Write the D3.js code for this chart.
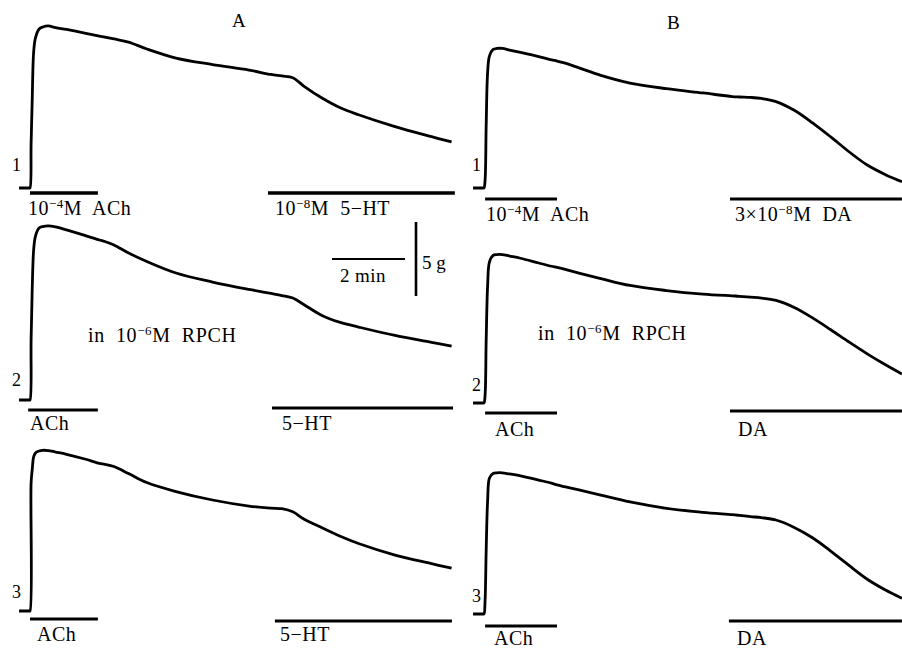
<!DOCTYPE html>
<html>
<head>
<meta charset="utf-8">
<script src="https://cdn.jsdelivr.net/npm/d3@7.9.0/dist/d3.min.js"></script>
<style>
  body { margin: 0; background: #fff; }
  svg { display: block; }
  text { font-family: "Liberation Serif", "Times New Roman", serif; fill: #000; white-space: pre; }
</style>
</head>
<body>
<svg id="chart" width="902" height="649"></svg>
<script>
// time in minutes from ACh application, tension in g
const timeA = [-0.3, -0.02, 0, 0.03, 0.06, 0.1, 0.15, 0.25, 0.35, 0.5, 0.7, 1.0, 1.5, 1.9, 2.05, 2.3, 2.7, 3.2, 4, 5, 6, 6.6, 6.9, 7.2, 7.5, 8, 8.5, 9, 10, 11, 11.55];
const timeB = [-0.3, -0.02, 0, 0.03, 0.06, 0.1, 0.15, 0.25, 0.35, 0.5, 0.7, 1.0, 1.5, 1.85, 2.0, 2.2, 2.6, 3.2, 4, 5, 6, 6.8, 7.0, 7.3, 7.6, 8.0, 8.5, 9.0, 9.5, 10, 10.5, 11, 11.45];

const traceA1 = [0, 0, 0, 2.97, 5.88, 9.19, 10.14, 10.74, 10.88, 10.95, 10.84, 10.71, 10.47, 10.27, 10.20, 10.07, 9.86, 9.39, 8.78, 8.34, 7.97, 7.67, 7.57, 7.45, 6.89, 6.08, 5.42, 4.95, 4.15, 3.47, 3.11];
const traceA2 = [0, 0, 0, 4.05, 7.43, 10.14, 11.08, 11.62, 11.72, 11.76, 11.69, 11.49, 11.12, 10.81, 10.71, 10.47, 9.93, 9.36, 8.58, 7.97, 7.47, 7.20, 7.06, 6.89, 6.45, 5.71, 5.24, 4.93, 4.36, 3.90, 3.64];
const traceA3 = [0, 0, 0, 8.65, 9.53, 10.41, 10.68, 10.81, 10.86, 10.84, 10.74, 10.59, 10.27, 9.97, 9.91, 9.76, 9.29, 8.68, 8.07, 7.50, 7.09, 6.95, 6.91, 6.70, 6.22, 5.62, 5.05, 4.56, 3.78, 3.20, 2.89];
const traceB1 = [0, 0, 0, 0.54, 4.26, 7.84, 8.92, 9.36, 9.43, 9.43, 9.32, 9.16, 8.88, 8.66, 8.58, 8.45, 8.12, 7.61, 7.09, 6.71, 6.42, 6.18, 6.15, 6.12, 6.05, 5.84, 5.25, 4.40, 3.45, 2.45, 1.55, 0.90, 0.43];
const traceB2 = [0, 0, 0, 0.54, 4.26, 7.97, 9.53, 9.97, 10.03, 10.03, 9.93, 9.78, 9.46, 9.24, 9.16, 9.04, 8.78, 8.41, 7.94, 7.60, 7.36, 7.24, 7.21, 7.15, 7.09, 6.93, 6.45, 5.75, 4.95, 4.12, 3.32, 2.58, 1.96];
const traceB3 = [0, 0, 0, 0.95, 4.32, 7.70, 9.19, 9.49, 9.54, 9.54, 9.46, 9.34, 9.05, 8.84, 8.72, 8.60, 8.38, 8.03, 7.57, 7.14, 6.87, 6.71, 6.66, 6.58, 6.51, 6.35, 5.85, 5.15, 4.25, 3.28, 2.35, 1.62, 1.06];

// drug application periods [start, end] in min, per row
const barsA = [[[0, 1.86], [6.52, 11.64]], [[-0.05, 1.86], [6.63, 11.59]], [[0, 1.86], [6.71, 11.56]]];
const barsB = [[[0.03, 2.0], [6.74, 11.45]], [[0.03, 2.0], [6.74, 11.45]], [[0.03, 2.0], [6.71, 11.45]]];

const labelsA = [['10^{−4}M  ACh', '10^{−8}M  5−HT'], ['ACh', '5−HT'], ['ACh', '5−HT']];
const labelsB = [['10^{−4}M  ACh', '3×10^{−8}M  DA'], ['ACh', 'DA'], ['ACh', 'DA']];
const rowNames = ['1', '2', '3'];
const scaleMin = 2;
const scaleG = 5;

const svg = d3.select('#chart');

const pxPerMin = 36.5;
const pxPerG = 14.8;

const xA = d3.scaleLinear().domain([0, 1]).range([30, 30 + pxPerMin]);
const xB = d3.scaleLinear().domain([0, 1]).range([484, 484 + pxPerMin]);

// layout
const cols = [
  { name: 'A', x: xA, time: timeA, traces: [traceA1, traceA2, traceA3], bars: barsA, labels: labelsA,
    base: [188, 400, 611], barY: [[193, 193], [410, 408], [619, 621]],
    labelX: [[28, 275], [30, 282], [37, 280]], labelY: [215, 430, 641],
    numX: 12, numY: [171, 386, 598], title: [232, 27] },
  { name: 'B', x: xB, time: timeB, traces: [traceB1, traceB2, traceB3], bars: barsB, labels: labelsB,
    base: [188, 403, 614], barY: [[199, 199], [413, 411], [626, 621]],
    labelX: [[486, 735], [495, 738], [494, 737]], labelY: [221, 436, 645],
    numX: 472, numY: [171, 391, 602], title: [667, 29] }
];

function richText(sel, str) {
  const re = /\^\{([^}]*)\}|([^^]+)/g;
  let m, shift = 0;
  while ((m = re.exec(str)) !== null) {
    const sup = m[1] !== undefined;
    const target = sup ? -7 : 0;
    sel.append('tspan')
      .attr('dy', target - shift)
      .attr('font-size', sup ? 13 : null)
      .text(sup ? m[1] : m[2]);
    shift = target;
  }
}

const line = d3.line().curve(d3.curveCatmullRom.alpha(0.5));

cols.forEach((col) => {
  svg.append('text')
    .attr('x', col.title[0]).attr('y', col.title[1])
    .attr('font-size', 19)
    .text(col.name);

  col.traces.forEach((vals, r) => {
    const y = d3.scaleLinear().domain([0, 1]).range([col.base[r], col.base[r] - pxPerG]);
    const pts = col.time.map((t, i) => [col.x(t), y(vals[i])]);

    svg.append('path')
      .attr('d', line(pts))
      .attr('fill', 'none')
      .attr('stroke', '#000')
      .attr('stroke-width', 2.8)
      .attr('stroke-linejoin', 'round');

    col.bars[r].forEach(([s, e], j) => {
      svg.append('line')
        .attr('x1', col.x(s)).attr('x2', col.x(e))
        .attr('y1', col.barY[r][j]).attr('y2', col.barY[r][j])
        .attr('stroke', '#000')
        .attr('stroke-width', r === 0 && col.name === 'A' ? 3.4 : 2.8);

      const t = svg.append('text')
        .attr('x', col.labelX[r][j])
        .attr('y', col.labelY[r])
        .attr('font-size', 20)
        .attr('letter-spacing', 0.5);
      richText(t, col.labels[r][j]);
    });

    svg.append('text')
      .attr('x', col.numX).attr('y', col.numY[r])
      .attr('font-size', 18)
      .text(rowNames[r]);
  });

  const rp = svg.append('text')
    .attr('x', col.name === 'A' ? 88 : 538)
    .attr('y', col.name === 'A' ? 342 : 340)
    .attr('font-size', 20)
    .attr('letter-spacing', 0.6);
  richText(rp, 'in  10^{−6}M  RPCH');
});

// calibration bars
const sx0 = 332, sy0 = 222;
svg.append('line')
  .attr('x1', sx0).attr('x2', sx0 + (xA(scaleMin) - xA(0)))
  .attr('y1', 259).attr('y2', 259)
  .attr('stroke', '#000').attr('stroke-width', 2.2);
svg.append('text')
  .attr('x', 340).attr('y', 282)
  .attr('font-size', 19)
  .attr('letter-spacing', 0.4)
  .text('2 min');
svg.append('line')
  .attr('x1', 416).attr('x2', 416)
  .attr('y1', sy0).attr('y2', sy0 + scaleG * pxPerG)
  .attr('stroke', '#000').attr('stroke-width', 2.6);
svg.append('text')
  .attr('x', 422).attr('y', 269)
  .attr('font-size', 19)
  .text('5 g');
</script>
</body>
</html>
